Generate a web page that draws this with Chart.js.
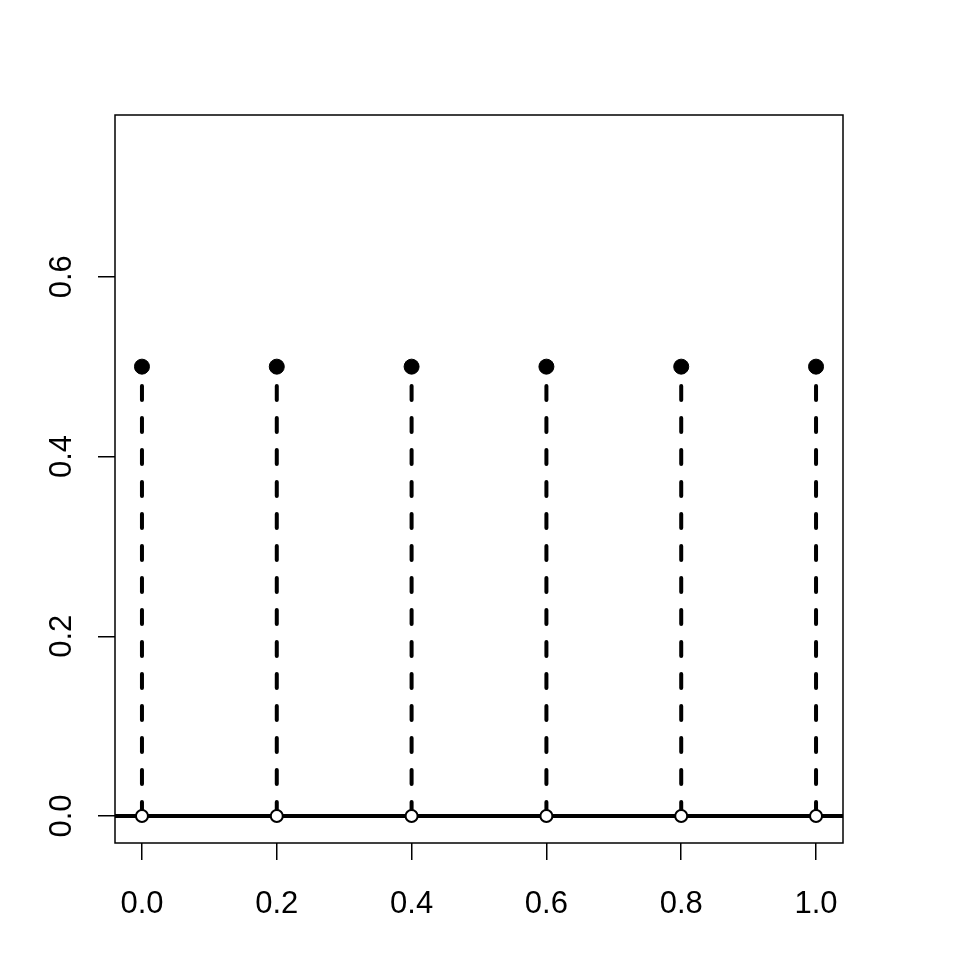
<!DOCTYPE html>
<html>
<head>
<meta charset="utf-8">
<script src="https://cdn.jsdelivr.net/npm/chart.js@4.4.1/dist/chart.umd.min.js"></script>
<style>
  html, body { margin: 0; padding: 0; background: #fff; }
  canvas { display: block; }
</style>
</head>
<body>
<canvas id="stemChart" width="960" height="960"></canvas>
<script>
// values
const xVals = [0, 0.2, 0.4, 0.6, 0.8, 1.0];
const topVals = [0.5, 0.5, 0.5, 0.5, 0.5, 0.5];
const baseVals = [0, 0, 0, 0, 0, 0];
const xTicks = [0, 0.2, 0.4, 0.6, 0.8, 1.0];
const xTickLabels = ['0.0', '0.2', '0.4', '0.6', '0.8', '1.0'];
const yTicks = [0, 0.2, 0.4, 0.6];
const yTickLabels = ['0.0', '0.2', '0.4', '0.6'];
const xLimits = [-0.04, 1.04];
const yLimits = [-0.03, 0.78];

const labelFont = '31px "Liberation Sans", Arial, sans-serif';

// R style frame + rotated y labels
const frameAndLabels = {
    id: 'frameAndLabels',
    afterDraw(chart) {
        const { ctx, chartArea, scales } = chart;
        ctx.save();
        ctx.strokeStyle = '#000';
        ctx.lineWidth = 1.5;
        ctx.strokeRect(chartArea.left, chartArea.top,
            chartArea.right - chartArea.left, chartArea.bottom - chartArea.top);

        ctx.fillStyle = '#000';
        ctx.font = labelFont;
        ctx.textAlign = 'center';
        ctx.textBaseline = 'alphabetic';
        xTicks.forEach((v, i) => {
            ctx.fillText(xTickLabels[i], scales.x.getPixelForValue(v), 913);
        });
        yTicks.forEach((v, i) => {
            ctx.save();
            ctx.translate(71, scales.y.getPixelForValue(v));
            ctx.rotate(-Math.PI / 2);
            ctx.fillText(yTickLabels[i], 0, 0);
            ctx.restore();
        });
        ctx.restore();
    }
};

const stemSets = xVals.map((x, i) => ({
    type: 'line',
    data: [{ x: x, y: baseVals[i] }, { x: x, y: topVals[i] }],
    borderColor: '#000',
    borderWidth: 4,
    borderDash: [14, 18],
    borderCapStyle: 'round',
    pointRadius: 0,
    order: 3
}));

const datasets = [
    {
        type: 'line',
        data: [{ x: xLimits[0], y: 0 }, { x: xLimits[1], y: 0 }],
        borderColor: '#000',
        borderWidth: 4,
        pointRadius: 0,
        order: 4
    },
    ...stemSets,
    {
        type: 'scatter',
        data: xVals.map((x, i) => ({ x: x, y: baseVals[i] })),
        pointRadius: 6,
        pointBorderWidth: 2,
        pointBackgroundColor: '#fff',
        pointBorderColor: '#000',
        order: 1
    },
    {
        type: 'scatter',
        data: xVals.map((x, i) => ({ x: x, y: topVals[i] })),
        pointRadius: 7.5,
        pointBorderWidth: 1,
        pointBackgroundColor: '#000',
        pointBorderColor: '#000',
        order: 0
    }
];

new Chart(document.getElementById('stemChart').getContext('2d'), {
    type: 'scatter',
    data: { datasets: datasets },
    options: {
        responsive: false,
        animation: false,
        devicePixelRatio: 1,
        layout: { padding: { top: 115, right: 117, left: 0, bottom: 0 } },
        plugins: {
            legend: { display: false },
            tooltip: { enabled: false }
        },
        scales: {
            x: {
                type: 'linear',
                min: xLimits[0],
                max: xLimits[1],
                afterBuildTicks: (scale) => { scale.ticks = xTicks.map(v => ({ value: v })); },
                afterFit: (scale) => { scale.height = 117; },
                ticks: { display: false },
                grid: { drawOnChartArea: false, drawTicks: true, tickLength: 17, color: '#000', lineWidth: 1.5 },
                border: { display: false }
            },
            y: {
                type: 'linear',
                min: yLimits[0],
                max: yLimits[1],
                afterBuildTicks: (scale) => { scale.ticks = yTicks.map(v => ({ value: v })); },
                afterFit: (scale) => { scale.width = 115; },
                ticks: { display: false },
                grid: { drawOnChartArea: false, drawTicks: true, tickLength: 17, color: '#000', lineWidth: 1.5 },
                border: { display: false }
            }
        }
    },
    plugins: [frameAndLabels]
});
</script>
</body>
</html>
